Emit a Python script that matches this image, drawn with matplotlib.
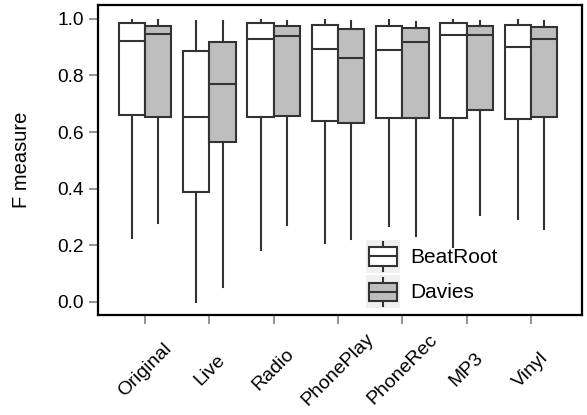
import numpy as np
import matplotlib
matplotlib.use('Agg')
import matplotlib.pyplot as plt
from matplotlib.legend_handler import HandlerBase
from matplotlib.patches import Rectangle
from matplotlib.lines import Line2D

plt.rcParams['font.family'] = ['Liberation Sans', 'DejaVu Sans']

categories = ['Original', 'Live', 'Radio', 'PhonePlay', 'PhoneRec', 'MP3', 'Vinyl']

# five-number summaries: low whisker, Q1, median, Q3, high whisker
beatroot_low = [0.225, 0.001, 0.184, 0.210, 0.269, 0.193, 0.292]
beatroot_q1 = [0.661, 0.389, 0.654, 0.639, 0.649, 0.651, 0.645]
beatroot_med = [0.923, 0.654, 0.930, 0.895, 0.889, 0.942, 0.902]
beatroot_q3 = [0.987, 0.885, 0.985, 0.980, 0.973, 0.987, 0.978]
beatroot_high = [0.996, 0.994, 0.996, 0.996, 0.996, 0.996, 0.996]

davies_low = [0.278, 0.052, 0.272, 0.221, 0.233, 0.306, 0.259]
davies_q1 = [0.653, 0.565, 0.657, 0.633, 0.649, 0.678, 0.653]
davies_med = [0.946, 0.771, 0.941, 0.862, 0.919, 0.942, 0.930]
davies_q3 = [0.975, 0.920, 0.976, 0.963, 0.968, 0.975, 0.971]
davies_high = [0.996, 0.994, 0.994, 0.994, 0.989, 0.994, 0.994]

line_col = '#333333'
fill_cols = {'BeatRoot': 'white', 'Davies': '#bebebe'}


def make_stats(low, q1, med, q3, high):
    return [dict(whislo=a, q1=b, med=c, q3=d, whishi=e, fliers=[])
            for a, b, c, d, e in zip(low, q1, med, q3, high)]


class HandlerBox(HandlerBase):
    def __init__(self, face):
        super().__init__()
        self.face = face

    def create_artists(self, legend, orig_handle, xdescent, ydescent,
                       width, height, fontsize, trans):
        x0, y0 = -xdescent, -ydescent
        bg = Rectangle((x0, y0), width, height, facecolor='#f0f0f0',
                       edgecolor='none', transform=trans)
        bw = width * 0.82
        bh = height * 0.56
        bx = x0 + (width - bw) / 2
        by = y0 + (height - bh) / 2
        box = Rectangle((bx, by), bw, bh, facecolor=self.face,
                        edgecolor=line_col, lw=1.5, transform=trans)
        cx = x0 + width / 2
        cy = y0 + height / 2
        med = Line2D([bx, bx + bw], [cy, cy], color=line_col, lw=1.5, transform=trans)
        w1 = Line2D([cx, cx], [by + bh, y0 + height * 0.93], color=line_col, lw=1.5, transform=trans)
        w2 = Line2D([cx, cx], [by, y0 + height * 0.07], color=line_col, lw=1.5, transform=trans)
        return [bg, w1, w2, box, med]


fig = plt.figure(figsize=(5.87, 4.15), dpi=100)
ax = fig.add_axes([0.1665, 0.241, 0.825, 0.747])

pos = np.arange(1, len(categories) + 1)
width = 0.41
series = [
    ('BeatRoot', make_stats(beatroot_low, beatroot_q1, beatroot_med, beatroot_q3, beatroot_high), -0.205),
    ('Davies', make_stats(davies_low, davies_q1, davies_med, davies_q3, davies_high), 0.205),
]
handles = []
for name, stats, off in series:
    ax.bxp(stats, positions=pos + off, widths=width, showcaps=False,
           showfliers=False, patch_artist=True,
           boxprops=dict(facecolor=fill_cols[name], edgecolor=line_col, lw=1.5),
           medianprops=dict(color=line_col, lw=1.5),
           whiskerprops=dict(color=line_col, lw=1.5))
    handles.append(Rectangle((0, 0), 1, 1, label=name))

ax.set_xlim(0.264, 7.793)
ax.set_ylim(-0.046, 1.049)
ax.set_xticks(pos)
ax.set_xticklabels(categories, rotation=45, ha='center', va='center', fontsize=14)
ax.set_yticks([0.0, 0.2, 0.4, 0.6, 0.8, 1.0])
ax.set_yticklabels(['0.0', '0.2', '0.4', '0.6', '0.8', '1.0'], fontsize=13.8)
ax.tick_params(axis='both', direction='out', length=6.5, width=1.2,
               color='#808080', pad=3.5)
ax.tick_params(axis='x', pad=33)
for sp in ax.spines.values():
    sp.set_linewidth(1.6)
    sp.set_color('black')

ax.set_ylabel('F measure', fontsize=14.5)
ax.yaxis.set_label_coords(-0.138, 0.5)

ax.legend(handles=handles, handler_map={handles[0]: HandlerBox('white'),
                                        handles[1]: HandlerBox('#bebebe')},
          loc='upper left', bbox_to_anchor=(366 / 587, 1 - 240 / 415),
          bbox_transform=fig.transFigure, frameon=False, borderpad=0,
          borderaxespad=0, fontsize=15, handlelength=1.63, handleheight=2.05,
          labelspacing=0.12, handletextpad=0.5)

fig.savefig('out.png', dpi=100)
